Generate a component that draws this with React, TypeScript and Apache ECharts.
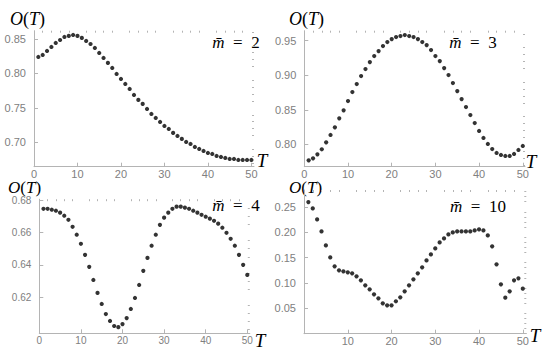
import React, { useEffect, useRef } from "react";
import * as echarts from "echarts";

// ---- data ----
const T = [1, 2, 3, 4, 5, 6, 7, 8, 9, 10, 11, 12, 13, 14, 15, 16, 17, 18, 19, 20, 21, 22, 23, 24, 25, 26, 27, 28, 29, 30, 31, 32, 33, 34, 35, 36, 37, 38, 39, 40, 41, 42, 43, 44, 45, 46, 47, 48, 49, 50];

const m2 = [0.8239, 0.8268, 0.8326, 0.8384, 0.8442, 0.8485, 0.8529, 0.8544, 0.8558, 0.8544,
  0.8515, 0.8471, 0.8427, 0.8369, 0.8297, 0.8224, 0.8152, 0.8079, 0.7992, 0.7919,
  0.7847, 0.7774, 0.7687, 0.7615, 0.7557, 0.7484, 0.7411, 0.7353, 0.7295, 0.7237,
  0.7194, 0.7136, 0.7092, 0.7049, 0.7005, 0.6976, 0.6932, 0.6903, 0.6874, 0.6845,
  0.6831, 0.6802, 0.6787, 0.6773, 0.6758, 0.6758, 0.6744, 0.6744, 0.6744, 0.6744];

const m3 = [0.7768, 0.7797, 0.7855, 0.7928, 0.8029, 0.8135, 0.8246, 0.8376, 0.8492, 0.8627,
  0.8757, 0.8873, 0.8989, 0.909, 0.9191, 0.9278, 0.935, 0.9423, 0.9481, 0.9524,
  0.9553, 0.9568, 0.9582, 0.9568, 0.9553, 0.9524, 0.9481, 0.9437, 0.9365, 0.9278,
  0.9205, 0.9104, 0.9003, 0.8887, 0.8771, 0.8655, 0.854, 0.8424, 0.8308, 0.8193,
  0.8092, 0.8005, 0.7932, 0.7875, 0.7846, 0.7831, 0.7831, 0.786, 0.7918, 0.7976];

const m4 = [0.6746, 0.6746, 0.674, 0.6734, 0.6722, 0.6703, 0.6678, 0.6635, 0.6586, 0.653,
  0.6462, 0.6388, 0.6307, 0.6227, 0.6159, 0.6097, 0.6054, 0.6023, 0.6016, 0.6035,
  0.6072, 0.6128, 0.6196, 0.6276, 0.6363, 0.6443, 0.6518, 0.6586, 0.6647, 0.6691,
  0.6722, 0.6746, 0.6759, 0.6759, 0.6753, 0.6746, 0.6734, 0.6722, 0.6709, 0.6697,
  0.6685, 0.6672, 0.6654, 0.6629, 0.6598, 0.6561, 0.6518, 0.6462, 0.64, 0.6338];

const m10 = [0.2592, 0.2467, 0.2251, 0.2015, 0.1739, 0.1503, 0.1326, 0.1248, 0.1228, 0.1208,
  0.1189, 0.113, 0.1051, 0.0952, 0.0874, 0.0775, 0.0697, 0.0598, 0.0559, 0.0559,
  0.0638, 0.0716, 0.0834, 0.0952, 0.107, 0.1189, 0.1307, 0.1444, 0.1562, 0.168,
  0.1798, 0.1877, 0.1956, 0.1995, 0.2015, 0.2015, 0.2015, 0.2015, 0.2034, 0.2054,
  0.2034, 0.1936, 0.172, 0.1366, 0.0972, 0.071, 0.0834, 0.1051, 0.109, 0.0887];

const xTicks = [0, 10, 20, 30, 40, 50];
const xLabels = ["0", "10", "20", "30", "40", "50"];
const xLabels4 = ["10", "20", "30", "40", "50"];
const y1Ticks = [0.7, 0.75, 0.8, 0.85];
const y2Ticks = [0.8, 0.85, 0.9, 0.95];
const y3Ticks = [0.62, 0.64, 0.66, 0.68];
const y4Ticks = [0.05, 0.1, 0.15, 0.2, 0.25];
const mbarValues = ["2", "3", "4", "10"];

// ---- layout ----
const panels = [
  { data: m2, yTicks: y1Ticks, yStep: 0.01, xLabels: xLabels, xMax: 50.6, yMin: 0.6646, yMax: 0.862,
    grid: { left: 34, top: 30.7, width: 220, height: 136 },
    oT: [10, 19], oSize: 18, tT: [262, 160], title: [236, 42], labelSize: 11 },
  { data: m3, yTicks: y2Ticks, yStep: 0.01, xLabels: xLabels, xMax: 50.5, yMin: 0.7676, yMax: 0.9645,
    grid: { left: 304.3, top: 30.7, width: 220.7, height: 136 },
    oT: [289, 19], oSize: 18, tT: [531, 161], title: [473, 42], labelSize: 11 },
  { data: m4, yTicks: y3Ticks, yStep: 0.005, xLabels: xLabels, xMax: 50.6, yMin: 0.5978, yMax: 0.6805,
    grid: { left: 39.3, top: 199.2, width: 210.5, height: 134.1 },
    oT: [8, 187], oSize: 17, tT: [260, 340], title: [236, 205], labelSize: 10 },
  { data: m10, yTicks: y4Ticks, yStep: 0.01, xLabels: xLabels4, xMax: 50.8, yMin: 0, yMax: 0.283,
    grid: { left: 304, top: 190, width: 222.3, height: 143.7 },
    oT: [289, 187], oSize: 17, tT: [535, 335], title: [478, 206], labelSize: 11 },
];

const AXIS = "#b4b4b4";
const LABEL = "#808080";
const SERIF = "Liberation Serif";

function minorValues(min: number, max: number, step: number, major: number[]) {
  const out: number[] = [];
  const start = Math.ceil(min / step - 1e-9);
  for (let k = start; k * step <= max + 1e-9; k++) {
    const v = +(k * step).toFixed(6);
    if (!major.some((m) => Math.abs(m - v) < 1e-9)) out.push(v);
  }
  return out;
}

export default function App() {
  const ref = useRef<HTMLDivElement>(null);
  useEffect(() => {
    if (!ref.current) return;
    const chart = echarts.init(ref.current, undefined, { renderer: "svg" });
    const grids: any[] = [];
    const xAxes: any[] = [];
    const yAxes: any[] = [];
    const series: any[] = [];
    const graphic: any[] = [];
    panels.forEach((p, i) => {
      grids.push({ ...p.grid, containLabel: false });
      const xMinor = minorValues(0, p.xMax, 2, xTicks);
      const yMinor = minorValues(p.yMin, p.yMax, p.yStep, p.yTicks);
      const labelStyle = { color: LABEL, fontSize: p.labelSize, fontFamily: "Liberation Sans", lineHeight: 9 };
      xAxes.push({
        type: "value", gridIndex: i, min: 0, max: p.xMax,
        axisLine: { show: true, onZero: false, lineStyle: { color: AXIS, width: 1 } },
        axisTick: { show: true, inside: true, length: 4, customValues: xTicks, lineStyle: { color: AXIS } },
        axisLabel: { ...labelStyle, margin: 3, customValues: p.xLabels.map(Number), formatter: (v: number) => String(v) },
        splitLine: { show: false },
      });
      xAxes.push({
        type: "value", gridIndex: i, min: 0, max: p.xMax,
        axisLine: { show: false, onZero: false },
        axisTick: { show: true, inside: true, length: 2, customValues: xMinor, lineStyle: { color: AXIS } },
        axisLabel: { show: false },
        splitLine: { show: false },
      });
      yAxes.push({
        type: "value", gridIndex: i, min: p.yMin, max: p.yMax,
        axisLine: { show: true, onZero: false, lineStyle: { color: AXIS, width: 1 } },
        axisTick: { show: true, inside: true, length: 4, customValues: p.yTicks, lineStyle: { color: AXIS } },
        axisLabel: { ...labelStyle, margin: 8, customValues: p.yTicks, formatter: (v: number) => v.toFixed(2) },
        splitLine: { show: false },
      });
      yAxes.push({
        type: "value", gridIndex: i, min: p.yMin, max: p.yMax,
        axisLine: { show: false, onZero: false },
        axisTick: { show: true, inside: true, length: 2, customValues: yMinor, lineStyle: { color: AXIS } },
        axisLabel: { show: false },
        splitLine: { show: false },
      });
      series.push({
        type: "scatter", xAxisIndex: 2 * i, yAxisIndex: 2 * i,
        symbol: "circle", symbolSize: 4.2,
        itemStyle: { color: "#000" },
        data: T.map((t, k) => [t, p.data[k]]),
      });
      const it = { fontFamily: SERIF, fontStyle: "italic", fontSize: p.oSize, lineHeight: 13, fill: "#000" } as any;
      const rm = { fontFamily: SERIF, fontStyle: "normal", fontSize: p.oSize, lineHeight: 13, fill: "#000" } as any;
      graphic.push({
        type: "text", x: p.oT[0], y: p.oT[1],
        style: {
          text: "{i|O}{r|(}{i|T}{r|)}",
          rich: { i: it, r: rm },
          fontFamily: SERIF, fontSize: p.oSize, lineHeight: 13, fill: "#000", verticalAlign: "middle",
        },
      });
      graphic.push({
        type: "text", x: p.tT[0], y: p.tT[1],
        style: { text: "T", fontFamily: SERIF, fontStyle: "italic", fontSize: 19, fill: "#000", align: "center", verticalAlign: "middle" },
      });
      graphic.push({
        type: "text", x: p.title[0], y: p.title[1],
        style: {
          text: `{i|m\u0304}{r|  =  ${mbarValues[i]}}`,
          rich: { i: { ...it, fontSize: 17, lineHeight: 17 }, r: { ...rm, fontSize: 17, lineHeight: 17 } },
          fontFamily: SERIF, fontSize: 17, fill: "#000", align: "center", verticalAlign: "middle",
        },
      });
    });
    chart.setOption({
      animation: false,
      backgroundColor: "#fff",
      grid: grids,
      xAxis: xAxes,
      yAxis: yAxes,
      series,
      graphic,
    });
    return () => chart.dispose();
  }, []);
  return (
    <div
      ref={ref}
      style={{ position: "fixed", left: 0, top: 0, width: 554, height: 361, background: "#fff" }}
    />
  );
}
